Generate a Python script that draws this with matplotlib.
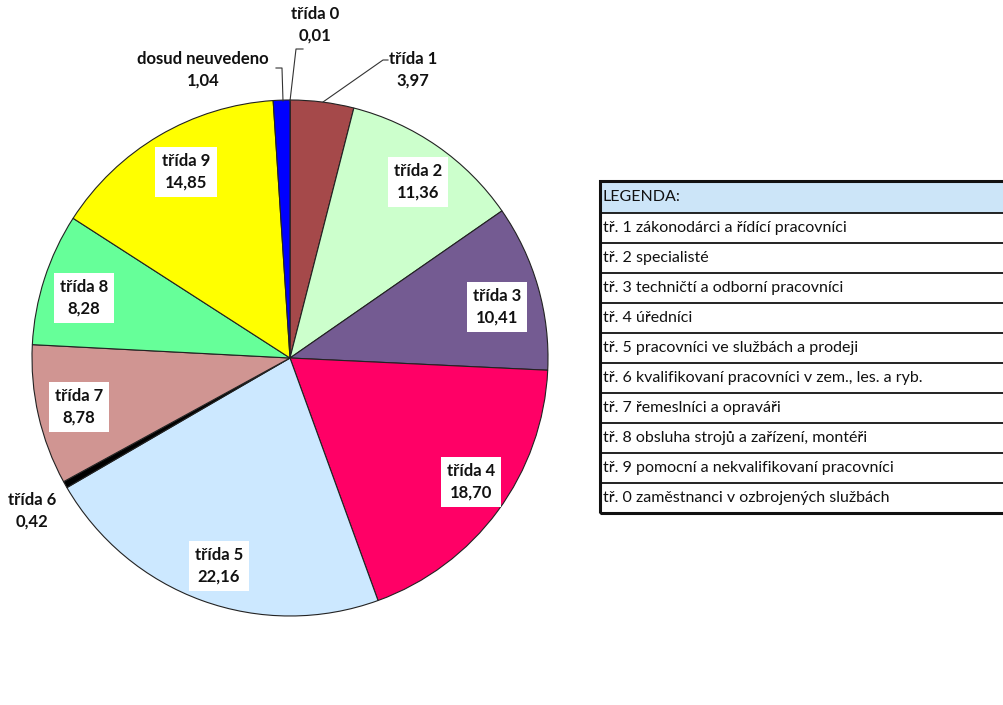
import matplotlib
matplotlib.use("Agg")
import matplotlib.pyplot as plt
from matplotlib.patches import Rectangle

# ---- data ----
categories = ["třída 0", "třída 1", "třída 2", "třída 3", "třída 4", "třída 5",
              "třída 6", "třída 7", "třída 8", "třída 9", "dosud neuvedeno"]
values = [0.01, 3.97, 11.36, 10.41, 18.70, 22.16, 0.42, 8.78, 8.28, 14.85, 1.04]
value_labels = ["0,01", "3,97", "11,36", "10,41", "18,70", "22,16", "0,42",
                "8,78", "8,28", "14,85", "1,04"]
colors = ["#7f1010", "#A5494A", "#CCFFCC", "#745B92", "#FF0066", "#CCE8FF",
          "#000000", "#D09592", "#66FF99", "#FFFF00", "#0000FF"]
legend_title = "LEGENDA:"
legend_rows = ["tř. 1 zákonodárci a řídící pracovníci",
               "tř. 2 specialisté",
               "tř. 3 techničtí a odborní pracovníci",
               "tř. 4 úředníci",
               "tř. 5 pracovníci ve službách a prodeji",
               "tř. 6 kvalifikovaní pracovníci v zem., les. a ryb.",
               "tř. 7 řemeslníci a opraváři",
               "tř. 8 obsluha strojů a zařízení, montéři",
               "tř. 9 pomocní a nekvalifikovaní pracovníci",
               "tř. 0 zaměstnanci v ozbrojených službách"]

W, H = 1004, 705
fig = plt.figure(figsize=(W / 100, H / 100), dpi=100)
ax = fig.add_axes([0, 0, 1, 1])
ax.set_xlim(0, W)
ax.set_ylim(0, H)
ax.set_aspect("equal")
ax.axis("off")

def Y(y):
    return H - y

cx, cy, R = 290, 358, 258
ax.pie(values, colors=colors, startangle=90, counterclock=False,
       center=(cx, Y(cy)), radius=R, frame=True,
       wedgeprops=dict(edgecolor="#222222", linewidth=0.8))
ax.set_xlim(0, W)
ax.set_ylim(0, H)
ax.axis("off")

# label positions (pixel layout), boxed = inside labels
label_pos = {
    "třída 0": (315, 25, False),
    "třída 1": (413, 70, False),
    "třída 2": (418, 182, True),
    "třída 3": (497, 307, True),
    "třída 4": (471, 482, True),
    "třída 5": (219, 566, True),
    "třída 6": (32, 511, False),
    "třída 7": (79, 407, True),
    "třída 8": (84, 298, True),
    "třída 9": (186, 172, True),
    "dosud neuvedeno": (203, 70, False),
}
font_lbl = ["Lato", "DejaVu Sans"]
for cat, vl in zip(categories, value_labels):
    x, y, boxed = label_pos[cat]
    kw = {}
    if boxed:
        kw["bbox"] = dict(facecolor="white", edgecolor="none", pad=4.5)
    ax.text(x, Y(y), f"{cat}\n{vl}", ha="center", va="center",
            fontsize=12, fontweight="bold", family=font_lbl,
            linespacing=1.4, color="#111111", zorder=5, **kw)

# leader lines
leaders = [
    [(303, 49), (296, 49), (290, 101)],
    [(276, 68), (282, 68), (283, 101)],
    [(388, 60), (383, 60), (323, 102)],
]
for pts in leaders:
    xs = [p[0] for p in pts]
    ys = [Y(p[1]) for p in pts]
    ax.plot(xs, ys, color="#333333", linewidth=0.8, zorder=4)

# legend table
x0, x1 = 600, 1010
top, hh, rh = 181, 32, 30
ax.add_patch(Rectangle((x0, Y(top + hh)), x1 - x0, hh, facecolor="#CCE5F8",
                       edgecolor="none", zorder=2))
font_leg = ["Lato", "DejaVu Sans"]
ax.text(x0 + 3, Y(top + hh / 2), legend_title, ha="left", va="center",
        fontsize=11.5, family=font_leg, color="#111111", zorder=3)
for i, row in enumerate(legend_rows):
    yc = top + hh + rh * i + rh / 2
    ax.text(x0 + 3, Y(yc), row, ha="left", va="center", fontsize=11.5,
            family=font_leg, color="#111111", zorder=3)
bottom = top + hh + rh * len(legend_rows)
for i in range(len(legend_rows)):
    yl = top + hh + rh * i
    ax.plot([x0, x1], [Y(yl), Y(yl)], color="#111111", linewidth=1.3, zorder=3)
ax.add_patch(Rectangle((x0, Y(bottom)), x1 - x0, bottom - top, facecolor="none",
                       edgecolor="#111111", linewidth=2.2, zorder=4))

fig.savefig("out.png", dpi=100)
